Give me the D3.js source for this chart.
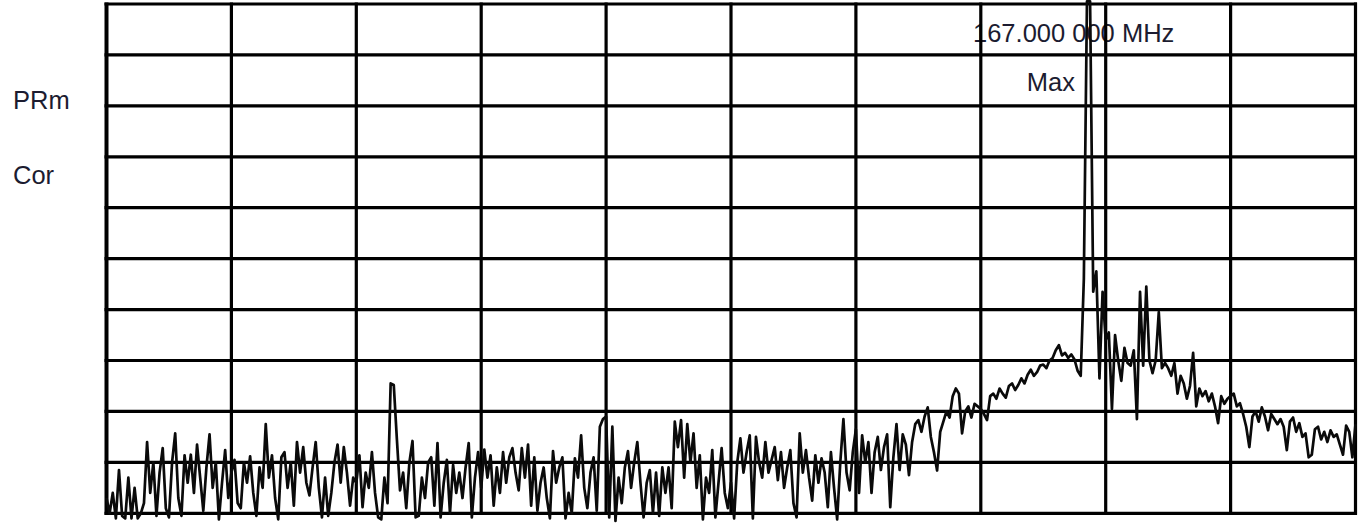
<!DOCTYPE html>
<html>
<head>
<meta charset="utf-8">
<script src="https://cdn.jsdelivr.net/npm/d3@7"></script>
<style>
  body { margin: 0; background: #fff; }
  text { font-family: "Liberation Sans", Arial, sans-serif; }
</style>
</head>
<body>
<div id="plot-area"></div>
<script>
// Spectrum trace screenshot: 10 x 10 grid, 10 dB/div, 401 sweep points

// Trace level in dB (reference level = top line = 0 dB), one value per sweep point
const traceDb = [
  -97, -100, -96, -101, -91.5, -100.5, -101, -93, -101, -95, -101, -100, -98, -86, -96, -90, -100.5, -92, -87.2, -99,
  -100.8, -90, -84.3, -97, -100.5, -88.6, -94, -88.5, -96, -86.5, -93, -99.5, -91, -84.5, -95, -90, -101.2, -94, -87.6, -97,
  -92, -89.5, -98, -99, -90, -94, -88.8, -96, -100.5, -91, -95, -82.5, -93, -88.6, -97, -101.2, -89, -88, -95, -90,
  -98.5, -86, -92, -87, -94, -96.5, -91, -86, -95, -100.8, -93, -100.5, -96, -90, -86.5, -94, -87, -92, -98.5, -93,
  -94, -88.6, -98.8, -92, -95, -88, -96, -100.8, -101.2, -93, -98, -74.5, -74.8, -85.5, -95.5, -92, -99, -90, -85.8, -100.8,
  -100.5, -93, -97, -90, -89, -98.5, -86.2, -100.8, -94, -89.5, -100, -90.5, -96, -92, -97, -91, -86.2, -100.8, -93, -88,
  -95, -87.5, -93, -88.6, -98.5, -91, -96, -88, -94, -89, -87.2, -92, -95.5, -87.2, -93, -86.5, -98.5, -89, -99.5, -94,
  -91, -97, -101, -87.8, -94, -91, -89, -101, -96, -100, -89.2, -93, -84.7, -95, -99, -92, -89, -99.5, -83, -81.5,
  -81, -100.8, -83, -101.5, -93, -98, -91, -87.8, -95, -90, -86, -94, -100.8, -94, -91.5, -100, -92, -100.5, -91, -96,
  -91, -99, -82, -87, -81.7, -93, -82.5, -90, -84.3, -95, -88.6, -101.2, -93, -96, -87.6, -100.8, -94, -87.2, -96, -99,
  -94, -101, -90, -85.3, -92, -88, -84.7, -101, -85, -90, -93, -86, -92, -89.5, -87, -93.5, -88, -95, -91, -87.6,
  -98, -100.8, -84.3, -92, -87.6, -93, -97.5, -88.6, -94, -89.2, -92, -98.8, -88, -95, -101.2, -90, -81.5, -92, -95.5, -88,
  -83.5, -96, -84.7, -90, -86, -96, -88, -85, -91.5, -87, -84.5, -98.8, -89, -82.5, -91.5, -84.5, -86.5, -92.5, -86, -82.5,
  -81.7, -84, -81, -79.2, -85, -88, -91.6, -84, -82, -80, -81.2, -77, -75.5, -76.5, -84.3, -80, -79, -81.2, -78.5, -79,
  -79.5, -80.5, -81.7, -77, -76.5, -77.5, -75.5, -76.5, -77.3, -75, -74.5, -75.8, -74.8, -73.5, -74.5, -72.8, -71.8, -73, -72.3, -71,
  -70.8, -71.5, -70, -69.5, -68, -67, -69, -68.5, -69.5, -68.8, -69.8, -72, -73, -54, 0.5, 0.5, -56.5, -52.5, -73.5, -56.5,
  -66, -64.5, -79.5, -65, -70, -74, -67.5, -70.5, -71, -68, -81.5, -56.5, -71, -55.5, -70, -72.5, -70, -60.5, -71.5, -70.5,
  -71.5, -73, -70.5, -76.5, -73, -74.5, -77.5, -75, -68.5, -79, -75.5, -77, -76, -78, -76.5, -79, -82.3, -77, -78.5, -77.5,
  -77, -76.5, -79, -78.4, -80.5, -83, -87, -81, -80, -82, -79.2, -81, -83.7, -80.5, -81.5, -82.5, -81.5, -83, -87.6, -82,
  -81.2, -84, -82.3, -85, -84.3, -89, -88.5, -83.5, -83, -85.5, -84, -86, -83.7, -85, -84.5, -86.5, -88.5, -82.8, -84, -89,
  -82.5
];

// Screen settings
const refLevel = 0;
const dbPerDiv = 10;
const divisions = 10;

// Labels
const sideLabels = ["PRm", "Cor"];
const markerFreq = "167.000 000 MHz";
const markerMode = "Max";

const svg = d3.select("#plot-area").
append("svg").
attr("width", 1358).
attr("height", 524);

const w = svg.attr("width");
const pL = 106.5, pR = 2.5, pT = 4, pB = 10.7; // padding, clockwise-ish
const gridW = w - pL - pR;

const xScale = d3.scaleLinear().
domain([0, traceDb.length - 1]).
range([pL, pL + gridW]);

const yScale = d3.scaleLinear().
domain([refLevel - dbPerDiv * divisions, refLevel]).
range([524 - pB, pT]);

// Text first, the grid is drawn over it like in the original
svg.selectAll(".side-label").
data(sideLabels).
join("text").
attr("class", "side-label").
attr("x", 13).
attr("y", (d, i) => 108.5 + i * 75.5).
attr("font-size", 25.5).
attr("fill", "#1c1c30").
text(d => d);

svg.append("text").
attr("x", 973).
attr("y", 42).
attr("font-size", 25.5).
attr("fill", "#1c1c30").
text(markerFreq);

svg.append("text").
attr("x", 1075).
attr("y", 91).
attr("text-anchor", "end").
attr("font-size", 25.5).
attr("fill", "#1c1c30").
text(markerMode);

// Grid
const xDivs = d3.range(divisions + 1).map(k => k * (traceDb.length - 1) / divisions);
const yDivs = d3.range(divisions + 1).map(k => refLevel - k * dbPerDiv);

const grid = svg.append("g").
attr("stroke", "#000").
attr("stroke-width", 3.2);

grid.selectAll(".vline").
data(xDivs).
join("line").
attr("class", "vline").
attr("x1", d => xScale(d)).
attr("x2", d => xScale(d)).
attr("y1", yScale.range()[1] - 1.5).
attr("y2", yScale.range()[0] + 1.5).
attr("stroke-width", (d, i) => i == 0 ? 4 : 3.2);

grid.selectAll(".hline").
data(yDivs).
join("line").
attr("class", "hline").
attr("x1", xScale.range()[0] - 2).
attr("x2", xScale.range()[1] + 1.5).
attr("y1", d => yScale(d)).
attr("y2", d => yScale(d));

// Trace
const line = d3.line().
x((d, i) => xScale(i)).
y(d => yScale(d));

svg.append("path").
datum(traceDb).
attr("d", line).
attr("fill", "none").
attr("stroke", "#0a0a0a").
attr("stroke-width", 2.7).
attr("stroke-linejoin", "round");
</script>
</body>
</html>
